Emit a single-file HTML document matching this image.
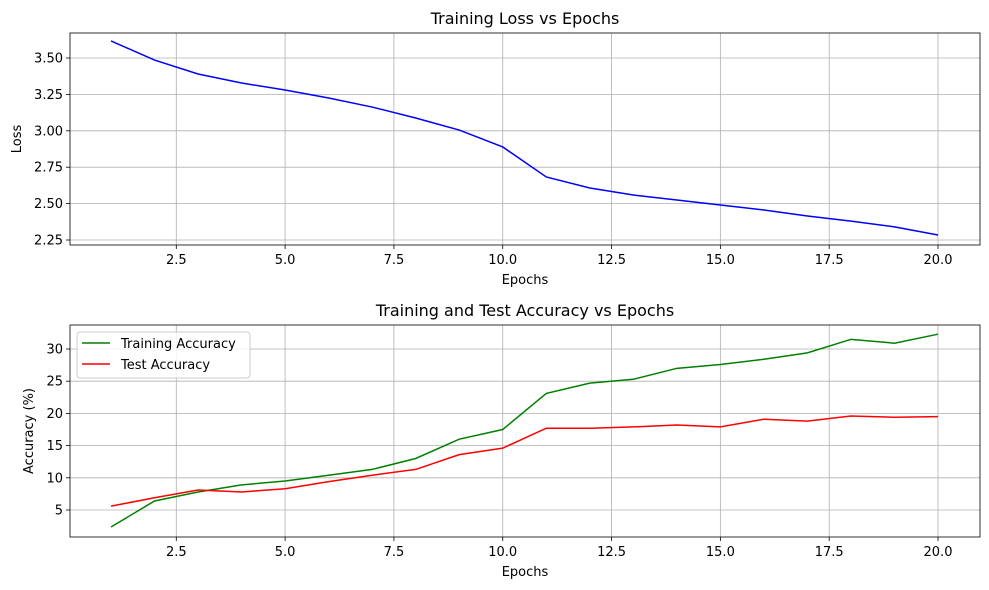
<!DOCTYPE html>
<html><head><meta charset="utf-8"><style>
body{margin:0;background:#fff;}
svg{display:block;font-family:"DejaVu Sans","Liberation Sans",sans-serif;}
</style></head><body>
<svg id="chart" width="989" height="590"></svg>
<script>
const epochs=[1,2,3,4,5,6,7,8,9,10,11,12,13,14,15,16,17,18,19,20];
const loss=[3.617,3.486,3.39,3.328,3.28,3.225,3.163,3.088,3.005,2.889,2.683,2.607,2.559,2.525,2.49,2.456,2.415,2.38,2.34,2.284];
const trainAcc=[2.36,6.4,7.8,8.9,9.5,10.4,11.3,13.0,16.0,17.5,23.1,24.7,25.3,27.0,27.6,28.4,29.4,31.5,30.9,32.3];
const testAcc=[5.6,6.9,8.1,7.8,8.3,9.4,10.4,11.3,13.6,14.6,17.7,17.7,17.9,18.2,17.9,19.1,18.8,19.6,19.4,19.5];
const xTicks=[2.5,5.0,7.5,10.0,12.5,15.0,17.5,20.0];
const lossTicks=[2.25,2.50,2.75,3.00,3.25,3.50];
const accTicks=[5,10,15,20,25,30];

const NS="http://www.w3.org/2000/svg";
const svg=document.getElementById('chart');
function mk(t,a,p){const e=document.createElementNS(NS,t);for(const k in a)e.setAttribute(k,a[k]);(p||svg).appendChild(e);return e;}
const xs=v=>111+(v-1)*(938-111)/19;

function panel(o){
  const g=mk('g',{});
  
  
  const ys=v=>o.y0+(v-o.v0)*(o.y1-o.y0)/(o.v1-o.v0);
  xTicks.forEach(t=>{const x=xs(t);
    mk('line',{x1:x,x2:x,y1:o.top,y2:o.bot,stroke:'#b0b0b0','stroke-width':0.8},g);
    mk('line',{x1:x,x2:x,y1:o.bot,y2:o.bot+4,stroke:'#000','stroke-width':0.8},g);
    const tx=mk('text',{x:x,y:o.bot+19,'font-size':13,'text-anchor':'middle'},g);tx.textContent=t.toFixed(1);
    });
  o.yTicks.forEach(t=>{const y=ys(t);
    mk('line',{x1:70,x2:980,y1:y,y2:y,stroke:'#b0b0b0','stroke-width':0.8},g);
    mk('line',{x1:66,x2:70,y1:y,y2:y,stroke:'#000','stroke-width':0.8},g);
    const tx=mk('text',{x:63,y:y+4.5,'font-size':13,'text-anchor':'end'},g);tx.textContent=o.fmt(t);
    });
  o.series.forEach(s=>{
    const pl=mk('polyline',{points:epochs.map((e,i)=>xs(e)+','+ys(s.d[i])).join(' '),fill:'none',stroke:s.c,'stroke-width':1.5},g);
    });
  mk('rect',{x:70,y:o.top,width:910,height:o.bot-o.top,fill:'none',stroke:'#000','stroke-width':0.8},g);
  const ti=mk('text',{x:525,y:o.top-9,'font-size':16,'text-anchor':'middle'},g);ti.textContent=o.title;
  
  const xl=mk('text',{x:525,y:o.bot+39,'font-size':13,'text-anchor':'middle'},g);xl.textContent='Epochs';
  
  const cy=(o.top+o.bot)/2;
  const yl=mk('text',{x:o.ylx,y:cy,'font-size':13,'text-anchor':'middle',transform:`rotate(-90 ${o.ylx} ${cy})`},g);yl.textContent=o.ylabel;
  
}
panel({name:'loss-panel',top:33,bot:245,y0:58,v0:3.5,y1:240,v1:2.25,yTicks:lossTicks,fmt:t=>t.toFixed(2),
  series:[{d:loss,c:'#0000ff',n:'loss-line'}],title:'Training Loss vs Epochs',ylabel:'Loss',ylx:21});
panel({name:'accuracy-panel',top:325,bot:537,y0:349,v0:30,y1:510,v1:5,yTicks:accTicks,fmt:t=>String(t),
  series:[{d:trainAcc,c:'#008000',n:'training-accuracy-line'},{d:testAcc,c:'#ff0000',n:'test-accuracy-line'}],
  title:'Training and Test Accuracy vs Epochs',ylabel:'Accuracy (%)',ylx:33});
const lg=mk('g',{});


mk('rect',{x:77,y:332,width:173,height:46,rx:3,fill:'#fff','fill-opacity':0.8,stroke:'#ccc'},lg);
[['Training Accuracy','#008000',343],['Test Accuracy','#ff0000',364]].forEach(([t,c,y])=>{
  const e=mk('g',{},lg);
  
  
  mk('line',{x1:82,x2:110,y1:y,y2:y,stroke:c,'stroke-width':1.5},e);
  const tx=mk('text',{x:121,y:y+5,'font-size':13},e);tx.textContent=t;
});
</script>
</body></html>
